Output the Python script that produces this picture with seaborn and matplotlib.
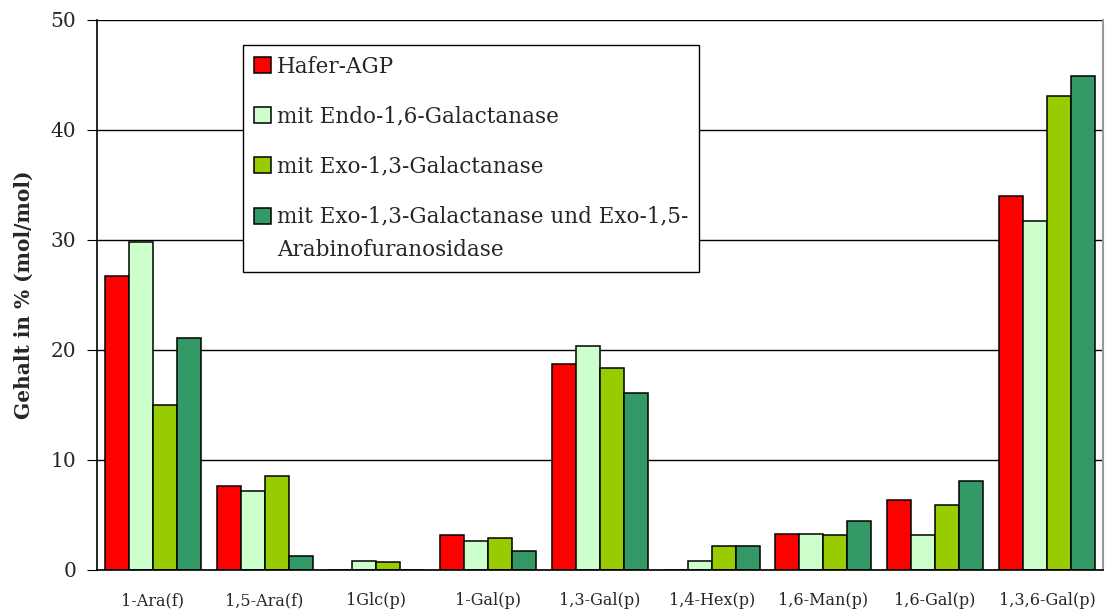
import matplotlib
matplotlib.use("Agg")
import matplotlib.pyplot as plt
import numpy as np
import pandas as pd
import seaborn as sns

categories = ["1-Ara(f)", "1,5-Ara(f)", "1Glc(p)", "1-Gal(p)", "1,3-Gal(p)",
              "1,4-Hex(p)", "1,6-Man(p)", "1,6-Gal(p)", "1,3,6-Gal(p)"]
series = ["Hafer-AGP",
          "mit Endo-1,6-Galactanase",
          "mit Exo-1,3-Galactanase",
          "mit Exo-1,3-Galactanase und Exo-1,5-\nArabinofuranosidase"]
hafer = [26.7, 7.6, 0.0, 3.15, 18.7, 0.0, 3.3, 6.4, 34.0]
endo16 = [29.8, 7.2, 0.85, 2.6, 20.4, 0.85, 3.3, 3.2, 31.7]
exo13 = [15.0, 8.5, 0.7, 2.9, 18.4, 2.15, 3.2, 5.9, 43.1]
exo13_15 = [21.1, 1.3, 0.0, 1.7, 16.1, 2.15, 4.45, 8.1, 44.9]
colors = ["#FF0000", "#CCFFCC", "#99CC00", "#339966"]
yticks = [0, 10, 20, 30, 40, 50]

rows = []
for s, vals in zip(series, [hafer, endo16, exo13, exo13_15]):
    for c, v in zip(categories, vals):
        rows.append({"cat": c, "series": s, "val": v})
df = pd.DataFrame(rows)

sns.set_style("white")
plt.rcParams["font.family"] = ["DejaVu Serif"]

fig = plt.figure(figsize=(11.05, 6.15), dpi=100)
ax = fig.add_axes([0.0878, 0.0732, 0.9102, 0.8943])

sns.barplot(data=df, x="cat", y="val", hue="series", order=categories,
            hue_order=series, palette=colors, width=0.86, gap=0,
            edgecolor="black", linewidth=1.1, saturation=1, ax=ax,
            errorbar=None)

ax.set_ylim(0, 50)
ax.set_xlim(-0.5, len(categories) - 0.5)
ax.set_yticks(yticks)
ax.set_yticklabels([str(t) for t in yticks], fontsize=14.5)
ax.yaxis.grid(True, color="black", linewidth=1)
ax.set_axisbelow(True)

ax.set_xticks(range(len(categories)))
ax.set_xticklabels(categories, fontsize=11.5)
ax.set_xticks(np.arange(-0.5, len(categories)), minor=True)
ax.tick_params(axis="x", which="major", length=0, pad=16)
ax.tick_params(axis="x", which="minor", length=6, color="black", direction="out")
ax.tick_params(axis="y", length=7, color="black", direction="out", left=True, pad=8)

ax.set_xlabel("")
ax.set_ylabel("Gehalt in % (mol/mol)", fontsize=14.5, fontweight="bold", labelpad=12)

for side in ["left", "bottom"]:
    ax.spines[side].set_color("black")
    ax.spines[side].set_linewidth(1.2)
ax.spines["top"].set_visible(False)
ax.spines["right"].set_color("#999999")
ax.spines["right"].set_linewidth(1.5)

leg_fs = 15.5
leg = ax.legend(loc="upper left", bbox_to_anchor=(0.145, 0.955), fontsize=leg_fs,
                frameon=True, fancybox=False, framealpha=1, edgecolor="black",
                labelspacing=1.3, handlelength=0.8, handleheight=0.8,
                handletextpad=0.3, borderpad=0.5, borderaxespad=0)
leg.get_frame().set_linewidth(1)
for t in leg.get_texts():
    t.set_linespacing(1.7)
# put the last swatch next to the first line of its two-line label
last = leg.legend_handles[3]
last.set_y(last.get_y() + 1.7 * leg_fs / 2)

fig.savefig("out.png", dpi=100)
